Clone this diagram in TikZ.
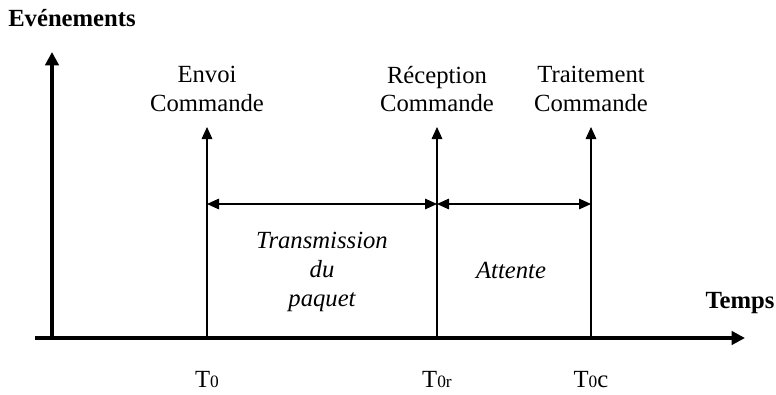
\documentclass[tikz,border=0pt]{standalone}
\usepackage{fontspec}
\setmainfont{Liberation Serif}
\usetikzlibrary{arrows.meta}
\tikzset{
   axe/.style={line width=3pt, -{Triangle[length=10pt,width=10pt]}},
   evt/.style={line width=0.8pt, -{Triangle[length=9pt,width=8pt]}},
   duree/.style={line width=0.8pt, {Triangle[length=9pt,width=8pt]}-{Triangle[length=9pt,width=8pt]}},
   lbl/.style={font=\fontsize{18.5}{21.5}\selectfont, align=center, inner sep=0pt},
   titre/.style={font=\fontsize{18.5}{21.5}\selectfont\bfseries, inner sep=0pt},
}
\newcommand{\petit}[1]{{\fontsize{13}{13}\selectfont #1}}
\begin{document}
\begin{tikzpicture}[x=0.75pt, y=0.75pt]
   \useasboundingbox (0, 0) rectangle (776, 394);
   % axes
   \coordinate (hg) at (35, 56);
   \coordinate (hd) at (745, 56);
   \coordinate (vb) at (52, 56);
   \coordinate (vh) at (52, 342);
   \draw[axe] (hg) -- (hd);
   \draw[axe] (vb) -- (vh);
   \node[titre, anchor=west] (evenements) at (8, 376) {Evénements};
   \node[titre] (temps) at (740, 91) {Temps};
   % evenements
   \foreach \nom/\x in {envoi/207, recep/437, trait/591} {
      \coordinate (\nom-b) at (\x, 56);
      \coordinate (\nom-h) at (\x, 267);
      \coordinate (\nom-m) at (\x, 190);
      \draw[evt] (\nom-b) -- (\nom-h);
   }
   \node[lbl] (l-envoi) at (207, 305) {Envoi\\Commande};
   \node[lbl] (l-recep) at (437, 305) {Réception\\Commande};
   \node[lbl] (l-trait) at (591, 305) {Traitement\\Commande};
   \node[lbl] (t0) at (207, 14) {T\petit{0}};
   \node[lbl] (t0r) at (437, 14) {T\petit{0r}};
   \node[lbl] (t0c) at (591, 14) {T\petit{0}c};
   % durees
   \draw[duree] (envoi-m) -- (recep-m);
   \draw[duree] (recep-m) -- (trait-m);
   \node[lbl, font=\fontsize{18.5}{21.5}\selectfont\itshape] (transmission) at (322, 122) {Transmission\\du\\paquet};
   \node[lbl, font=\fontsize{18.5}{21.5}\selectfont\itshape] (attente) at (511, 124) {Attente};
\end{tikzpicture}
\end{document}
